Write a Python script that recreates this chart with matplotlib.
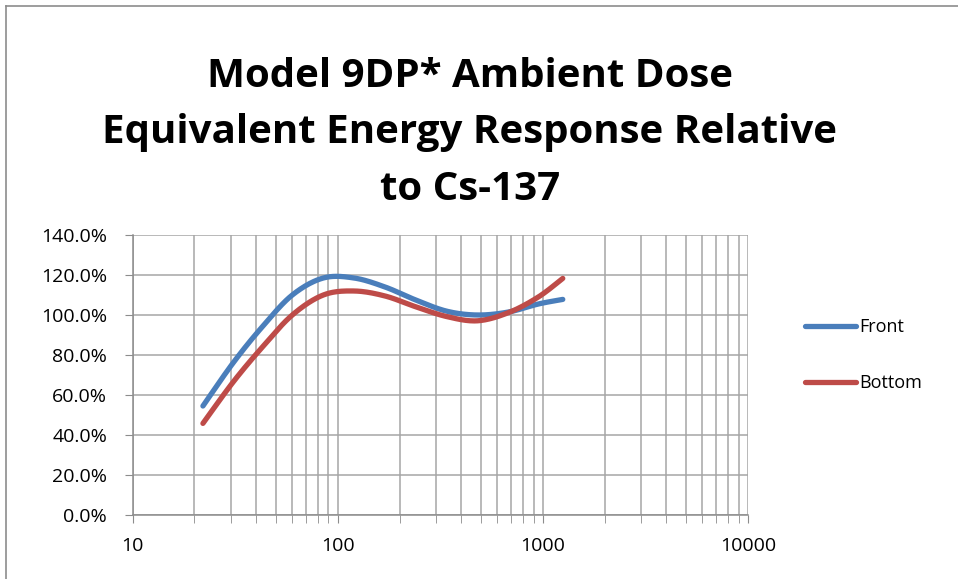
import numpy as np
import matplotlib
matplotlib.use("Agg")
from matplotlib import pyplot as plt
from matplotlib.ticker import FuncFormatter, LogLocator, MultipleLocator
from matplotlib.lines import Line2D

plt.rcParams['font.family'] = ['Open Sans', 'DejaVu Sans']

# data (energy in keV, response relative to Cs-137)
energy = [22, 31, 43, 60, 85, 120, 170, 240, 340, 480, 680, 950, 1250]
front = [0.545, 0.763, 0.943, 1.100, 1.185, 1.185, 1.140, 1.075, 1.019, 1.000, 1.015, 1.055, 1.078]
bottom = [0.458, 0.667, 0.841, 1.000, 1.100, 1.120, 1.095, 1.041, 0.992, 0.971, 1.012, 1.090, 1.183]
series_names = ["Front", "Bottom"]
colors = ["#4A7EBB", "#BE4B48"]
title = "Model 9DP* Ambient Dose\nEquivalent Energy Response Relative\nto Cs-137"


def smooth(xs, ys, n=30):
    # Excel-style smoothed line: Catmull-Rom through points in log-x space
    px = np.log10(np.asarray(xs, float))
    py = np.asarray(ys, float)
    px = np.concatenate([[px[0]], px, [px[-1]]])
    py = np.concatenate([[py[0]], py, [py[-1]]])
    ox, oy = [], []
    t = np.linspace(0, 1, n)
    for i in range(1, len(px) - 2):
        b0x, b3x = px[i], px[i + 1]
        b0y, b3y = py[i], py[i + 1]
        b1x = b0x + (px[i + 1] - px[i - 1]) / 6
        b1y = b0y + (py[i + 1] - py[i - 1]) / 6
        b2x = b3x - (px[i + 2] - px[i]) / 6
        b2y = b3y - (py[i + 2] - py[i]) / 6
        bx = (1 - t) ** 3 * b0x + 3 * (1 - t) ** 2 * t * b1x + 3 * (1 - t) * t ** 2 * b2x + t ** 3 * b3x
        by = (1 - t) ** 3 * b0y + 3 * (1 - t) ** 2 * t * b1y + 3 * (1 - t) * t ** 2 * b2y + t ** 3 * b3y
        ox.extend(bx)
        oy.extend(by)
    return 10 ** np.array(ox), np.array(oy)


fig = plt.figure(figsize=(9.58, 5.79), dpi=100)
ax = fig.add_axes([132.7 / 958, 1 - 515 / 579, (748 - 132.7) / 958, (515 - 235) / 579])

grid_c = "#a6a6a6"
for name, vals, c in zip(series_names, [front, bottom], colors):
    sx, sy = smooth(energy, vals)
    ax.plot(sx, sy, color=c, lw=3.8, solid_capstyle="round", zorder=3, label=name)

ax.set_xscale("log")
ax.set_xlim(10, 10000)
ax.set_ylim(0, 1.4)
ax.yaxis.set_major_locator(MultipleLocator(0.2))
ax.yaxis.set_major_formatter(FuncFormatter(lambda v, p: f"{v * 100:.1f}%"))
ax.xaxis.set_major_locator(LogLocator(base=10))
ax.xaxis.set_minor_locator(LogLocator(base=10, subs=np.arange(2, 10)))
ax.xaxis.set_major_formatter(FuncFormatter(lambda v, p: f"{v:.0f}"))
ax.xaxis.set_minor_formatter(FuncFormatter(lambda v, p: ""))

ax.grid(True, which="both", axis="x", color=grid_c, lw=1.1)
ax.grid(True, which="major", axis="y", color=grid_c, lw=1.1)
ax.set_axisbelow(True)
for s in ["top", "right"]:
    ax.spines[s].set_visible(False)
for s in ["left", "bottom"]:
    ax.spines[s].set_color("#8c8c8c")
    ax.spines[s].set_linewidth(1.1)
ax.tick_params(axis="y", which="major", length=6, color="#8c8c8c", labelsize=14, pad=12.5)
ax.tick_params(axis="x", which="both", length=6, color="#8c8c8c", labelsize=14, pad=10)

fig.text(470 / 958, 1 - 133 / 579, title, ha="center", va="center", fontsize=29,
         fontweight="bold", linespacing=1.57)

handles = [Line2D([], [], color=c, lw=3.8, solid_capstyle="round") for c in colors]
fig.legend(handles, series_names, loc="center left", bbox_to_anchor=(789 / 958, 1 - 355 / 579),
           frameon=False, fontsize=13, handlelength=2.8, handletextpad=0.2, labelspacing=2.1)

# chart border
fig.add_artist(Line2D([6 / 958, 6 / 958], [0, 1 - 6 / 579], color="#8c8c8c", lw=1.2))
fig.add_artist(Line2D([6 / 958, 1], [1 - 6 / 579, 1 - 6 / 579], color="#8c8c8c", lw=1.2))

fig.savefig("out.png", dpi=100, facecolor="white")
